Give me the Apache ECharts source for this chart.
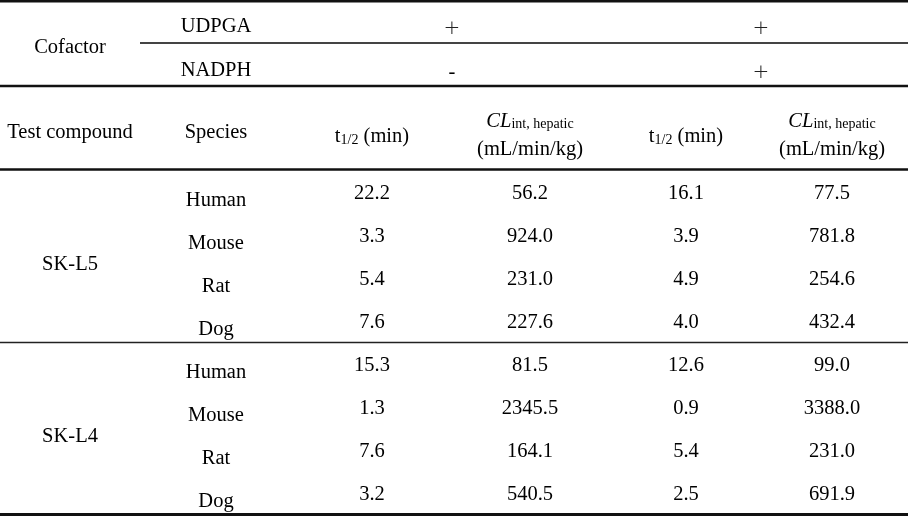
<!DOCTYPE html>
<html>
<head>
<meta charset="utf-8">
<script src="https://cdn.jsdelivr.net/npm/echarts@6/dist/echarts.min.js"></script>
<style>html,body{margin:0;padding:0;background:#fff;}#c{width:908px;height:527px;}</style>
</head>
<body>
<div id="c"></div>
<script>
// ---- data ----
const compounds = ['SK-L5', 'SK-L4'];
const species = ['Human', 'Mouse', 'Rat', 'Dog'];
const cofactors = ['UDPGA', 'NADPH'];
const cofactorSetA = ['+', '-'];   // UDPGA only
const cofactorSetB = ['+', '+'];   // UDPGA + NADPH
const t12UDPGA = [[22.2, 3.3, 5.4, 7.6], [15.3, 1.3, 7.6, 3.2]];
const clUDPGA = [[56.2, 924.0, 231.0, 227.6], [81.5, 2345.5, 164.1, 540.5]];
const t12Both = [[16.1, 3.9, 4.9, 4.0], [12.6, 0.9, 5.4, 2.5]];
const clBoth = [[77.5, 781.8, 254.6, 432.4], [99.0, 3388.0, 231.0, 691.9]];

// ---- layout ----
const W = 908, H = 527;
const colX = [70, 216, 372, 530, 686, 832];
const rowStart = 200, rowStep = 43, blockStep = 172, valOffset = -6.5;
const FONT = 'Liberation Serif';
const FS = 20.5;
const TXT = '#000';

const cells = [];
function cell(x, y, text) { cells.push({ value: [x, y], text: text }); }
function sign(s) { return s === '+' ? '{pl|+}' : s; }

// header: cofactor
cell(colX[0], 48, 'Cofactor');
cofactors.forEach((c, i) => {
  const y = i === 0 ? 27 : 71;
  cell(colX[1], y, c);
  cell(452, y + 2, sign(cofactorSetA[i]));
  cell(761, y + 2, sign(cofactorSetB[i]));
});
// header row 2
cell(colX[0], 133, 'Test compound');
cell(colX[1], 133, 'Species');
cell(colX[2], 137, 't{sub|1/2} (min)');
cell(colX[4], 137, 't{sub|1/2} (min)');
[colX[3], colX[5]].forEach(x => {
  cell(x, 122, '{it|CL}{sm|int, hepatic}');
  cell(x, 150, '(mL/min/kg)');
});
// body
compounds.forEach((cp, b) => {
  const y0 = rowStart + b * blockStep;
  cell(colX[0], y0 + 1.5 * rowStep, cp);
  species.forEach((sp, r) => {
    const y = y0 + r * rowStep;
    cell(colX[1], y + 1, sp);
    const vy = y + valOffset;
    cell(colX[2], vy, t12UDPGA[b][r].toFixed(1));
    cell(colX[3], vy, clUDPGA[b][r].toFixed(1));
    cell(colX[4], vy, t12Both[b][r].toFixed(1));
    cell(colX[5], vy, clBoth[b][r].toFixed(1));
  });
});

const rules = [
  { x0: 0, x1: W, y: 1.2, w: 2.5, c: '#111' },
  { x0: 140, x1: W, y: 43, w: 2, c: '#444' },
  { x0: 0, x1: W, y: 86, w: 2.5, c: '#111' },
  { x0: 0, x1: W, y: 169.5, w: 2.5, c: '#111' },
  { x0: 0, x1: W, y: 342.5, w: 1.6, c: '#222' },
  { x0: 0, x1: W, y: 514.5, w: 3, c: '#111' }
];

const chart = echarts.init(document.getElementById('c'), null, { renderer: 'canvas' });
chart.setOption({
  backgroundColor: '#fff',
  animation: false,
  grid: { left: 0, right: 0, top: 0, bottom: 0 },
  xAxis: { type: 'value', min: 0, max: W, show: false },
  yAxis: { type: 'value', min: 0, max: H, inverse: true, show: false },
  series: [
    {
      type: 'custom',
      renderItem: function (params, api) {
        const r = rules[params.dataIndex];
        const p0 = api.coord([r.x0, r.y]);
        const p1 = api.coord([r.x1, r.y]);
        return {
          type: 'line',
          shape: { x1: p0[0], y1: p0[1], x2: p1[0], y2: p1[1] },
          style: { stroke: r.c, lineWidth: r.w }
        };
      },
      data: rules.map(r => [r.x0, r.y, r.x1]),
      silent: true
    },
    {
      type: 'scatter',
      symbolSize: 1,
      itemStyle: { color: 'rgba(0,0,0,0)', opacity: 1 },
      silent: true,
      data: cells.map(c => ({ value: c.value, name: c.text })),
      label: {
        show: true,
        position: 'inside',
        formatter: p => p.name,
        fontFamily: FONT,
        fontSize: FS,
        color: TXT,
        opacity: 1,
        textBorderWidth: 0,
        rich: {
          sub: { fontFamily: FONT, fontSize: 14, color: TXT, textBorderWidth: 0, padding: [7, 0, 0, 0] },
          it: { fontFamily: FONT, fontSize: FS, fontStyle: 'italic', color: TXT, textBorderWidth: 0 },
          sm: { fontFamily: FONT, fontSize: 14, color: TXT, textBorderWidth: 0, padding: [4, 0, 0, 0] },
          pl: { fontFamily: 'DejaVu Sans', fontSize: 20, fontWeight: 200, color: '#222', textBorderWidth: 0 }
        }
      }
    }
  ]
});
</script>
</body>
</html>
